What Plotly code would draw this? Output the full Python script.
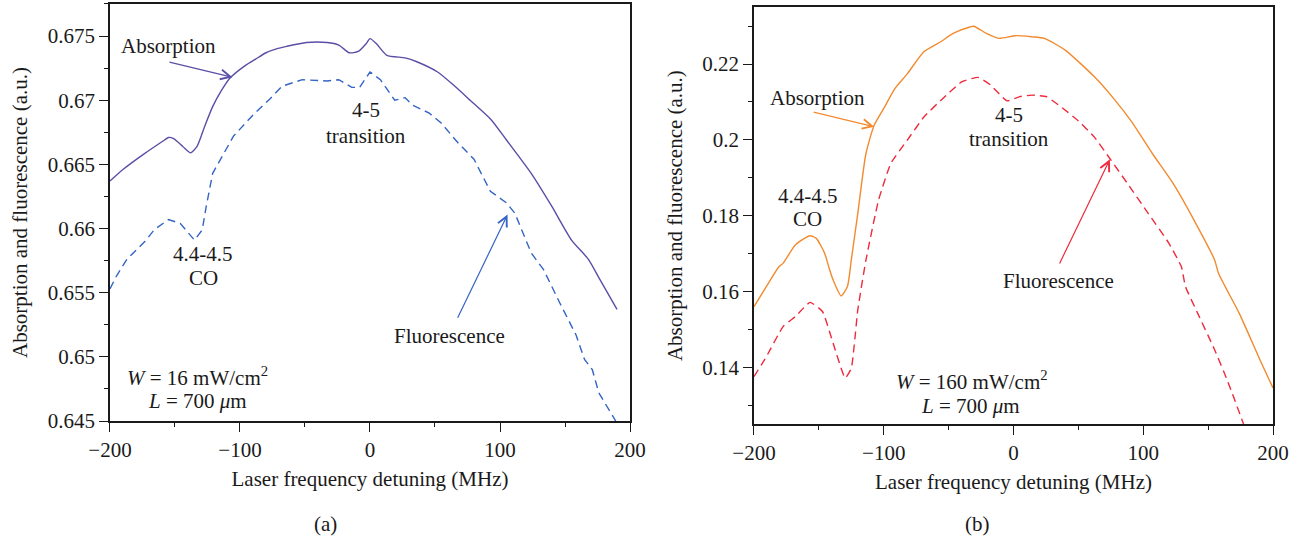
import plotly.graph_objects as go

# ---- Panel (a): W = 16 mW/cm^2 ----
a_abs_x = [-200, -190, -174, -158, -155, -151, -144, -138, -133, -127, -121, -114, -108,
           -96, -88, -80, -72, -64, -49, -33, -24, -16, -9, -3, 0, 5, 13, 27, 36, 52, 64,
           77, 93, 105, 124, 140, 155, 168, 177, 190]
a_abs_y = [0.6637, 0.6646, 0.6658, 0.6669, 0.6671, 0.6670, 0.6664, 0.6659, 0.6664, 0.6680,
           0.6695, 0.6708, 0.6717, 0.6727, 0.6732, 0.6737, 0.6740, 0.6742, 0.6745, 0.6745,
           0.6743, 0.6737, 0.6738, 0.6744, 0.6748, 0.6744, 0.6735, 0.6733, 0.6730, 0.6722,
           0.6712, 0.6700, 0.6685, 0.6669, 0.6643, 0.6617, 0.6591, 0.6576, 0.6560, 0.6537]

a_flu_x = [-200, -195, -187, -182, -173, -166, -155, -146, -138, -135, -129, -126, -121,
           -105, -89.5, -77, -67.5, -52, -33, -24, -14, -8, 0, 8, 19, 27, 33, 45.5, 55,
           67.5, 80, 92.6, 105, 111.4, 124, 133.5, 146, 158.5, 165, 171, 176, 187, 189]
a_flu_y = [0.6553, 0.6563, 0.6576, 0.6581, 0.6590, 0.6599, 0.6607, 0.6604, 0.6594, 0.6591,
           0.6599, 0.6617, 0.6643, 0.6672, 0.6689, 0.6701, 0.6711, 0.6716, 0.6715, 0.6716,
           0.6710, 0.6710, 0.6722, 0.6716, 0.6700, 0.6702, 0.6696, 0.6690, 0.6682, 0.6667,
           0.6654, 0.6629, 0.6620, 0.6612, 0.6581, 0.6568, 0.6542, 0.6517, 0.6498, 0.6490,
           0.6472, 0.6454, 0.6450]

# ---- Panel (b): W = 160 mW/cm^2 ----
b_abs_x = [-200, -190.4, -180.8, -177.6, -168, -156.8, -152, -145.6, -142.4, -139, -132.8,
           -128, -125, -120, -113.7, -107.3, -99.3, -91.3, -81.7, -68.9, -56.1, -46.5,
           -33.7, -30.5, -20.9, -11.3, 1.4, 14.2, 23.8, 39.8, 62.2, 78.2, 91, 107, 123,
           139, 155, 158, 174, 190, 200]
b_abs_y = [0.1560, 0.1613, 0.1665, 0.1674, 0.1723, 0.1747, 0.1740, 0.1701, 0.1665, 0.1630,
           0.1588, 0.1613, 0.1683, 0.1806, 0.1964, 0.2039, 0.2087, 0.2136, 0.2175, 0.2233,
           0.2259, 0.2281, 0.2298, 0.2300, 0.2281, 0.2268, 0.2275, 0.2272, 0.2268, 0.2237,
           0.2167, 0.2105, 0.2048, 0.1964, 0.1885, 0.1789, 0.1683, 0.1648, 0.1542, 0.1419,
           0.1345]

b_flu_x = [-200, -190.4, -177.6, -168, -156.8, -147.2, -139, -129.7, -125, -120, -113.7,
           -104, -94.5, -81.7, -68.9, -53, -40, -27.3, -17.8, -5, 4.7, 14.2, 25.4, 36.7,
           49.4, 62.2, 75, 87.8, 103.8, 119.8, 129.4, 132.5, 142, 155, 164.6, 177.3]
b_flu_y = [0.1375, 0.1428, 0.1507, 0.1534, 0.1571, 0.1547, 0.1463, 0.1371, 0.1397, 0.1551,
           0.1683, 0.1841, 0.1938, 0.2000, 0.2061, 0.2114, 0.2153, 0.2165, 0.2145, 0.2103,
           0.2114, 0.2118, 0.2114, 0.2087, 0.2052, 0.2008, 0.1947, 0.1885, 0.1806, 0.1727,
           0.1665, 0.1613, 0.1542, 0.1446, 0.1367, 0.1250]

# ---- Axis ticks ----
x_ticks = [-200, -100, 0, 100, 200]
x_ticktext = ["\u2212200", "\u2212100", "0", "100", "200"]
a_y_ticks = [0.645, 0.65, 0.655, 0.66, 0.665, 0.67, 0.675]
a_y_ticktext = ["0.645", "0.65", "0.655", "0.66", "0.665", "0.67", "0.675"]
b_y_ticks = [0.14, 0.16, 0.18, 0.2, 0.22]
b_y_ticktext = ["0.14", "0.16", "0.18", "0.2", "0.22"]

FONT = "Liberation Serif"
FS = 21
BLACK = "#1a1a1a"
C_A_ABS = "#5a4ea6"
C_A_FLU = "#3464c4"
C_B_ABS = "#f28a2e"
C_B_FLU = "#ee2a3c"

fig = go.Figure()

fig.add_trace(go.Scatter(x=a_abs_x, y=a_abs_y, mode="lines", xaxis="x", yaxis="y",
                         line=dict(color=C_A_ABS, width=1.4, shape="spline", smoothing=0.6),
                         showlegend=False))
fig.add_trace(go.Scatter(x=a_flu_x, y=a_flu_y, mode="lines", xaxis="x", yaxis="y",
                         line=dict(color=C_A_FLU, width=1.4, dash="8px,5px"),
                         showlegend=False))
fig.add_trace(go.Scatter(x=b_abs_x, y=b_abs_y, mode="lines", xaxis="x2", yaxis="y2",
                         line=dict(color=C_B_ABS, width=1.4, shape="spline", smoothing=0.6),
                         showlegend=False))
fig.add_trace(go.Scatter(x=b_flu_x, y=b_flu_y, mode="lines", xaxis="x2", yaxis="y2",
                         line=dict(color=C_B_FLU, width=1.4, dash="8px,5px",
                                   shape="spline", smoothing=0.4),
                         showlegend=False))


def x_axis(domain, anchor):
    return dict(domain=domain, anchor=anchor, range=[-200, 200], automargin=False,
                tickvals=x_ticks, ticktext=x_ticktext,
                ticks="outside", ticklen=9, tickwidth=1.2, tickcolor=BLACK,
                minor=dict(dtick=50, tick0=0, ticks="outside", ticklen=4,
                           tickwidth=1.2, tickcolor=BLACK),
                showline=True, linecolor=BLACK, linewidth=1.5, mirror=True,
                showgrid=False, zeroline=False,
                tickfont=dict(family=FONT, size=FS, color=BLACK),
                title=dict(text="Laser frequency detuning (MHz)", standoff=10,
                           font=dict(family=FONT, size=FS, color=BLACK)))


def y_axis(domain, anchor, rng, tv, tt, minor_dtick, minor_tick0):
    return dict(domain=domain, anchor=anchor, range=rng, automargin=False,
                tickvals=tv, ticktext=tt,
                ticks="outside", ticklen=9, tickwidth=1.2, tickcolor=BLACK,
                minor=dict(dtick=minor_dtick, tick0=minor_tick0, ticks="outside",
                           ticklen=4, tickwidth=1.2, tickcolor=BLACK),
                showline=True, linecolor=BLACK, linewidth=1.5, mirror=True,
                showgrid=False, zeroline=False,
                tickfont=dict(family=FONT, size=FS, color=BLACK),
                title=dict(text="Absorption and fluorescence (a.u.)", standoff=14,
                           font=dict(family=FONT, size=FS, color=BLACK)))


fig.update_layout(
    width=1309, height=539,
    margin=dict(l=0, r=0, t=0, b=0, autoexpand=False),
    paper_bgcolor="white", plot_bgcolor="white",
    font=dict(family=FONT, size=FS, color=BLACK),
    xaxis=x_axis([0.0840, 0.4813], "y"),
    yaxis=y_axis([0.2189, 0.9926], "x", [0.645, 0.6775], a_y_ticks, a_y_ticktext,
                 0.0025, 0.645),
    xaxis2=x_axis([0.5760, 0.9725], "y2"),
    yaxis2=y_axis([0.2134, 0.9865], "x2", [0.125, 0.235], b_y_ticks, b_y_ticktext,
                  0.01, 0.12),
)

ann = []


def label(text, x, y, xref, yref):
    ann.append(dict(text=text, x=x, y=y, xref=xref, yref=yref, showarrow=False,
                    xanchor="center", yanchor="middle",
                    font=dict(family=FONT, size=FS, color=BLACK)))


def arrow(x0, y0, x1, y1, xref, yref, color):
    ann.append(dict(text="", x=x1, y=y1, ax=x0, ay=y0, xref=xref, yref=yref,
                    axref=xref, ayref=yref, showarrow=True, arrowhead=5,
                    arrowsize=1.6, arrowwidth=1.2, arrowcolor=color, standoff=0))


# panel (a) labels
label("Absorption", -155, 0.67422, "x", "y")
arrow(-155.4, 0.6730, -105.8, 0.67179, "x", "y", C_A_ABS)
label("4-5", -3.2, 0.66925, "x", "y")
label("transition", -3.2, 0.66720, "x", "y")
label("4.4-4.5", -128.1, 0.65805, "x", "y")
label("CO", -128.1, 0.65615, "x", "y")
label("Fluorescence", 61.2, 0.65163, "x", "y")
arrow(66.9, 0.65293, 105.8, 0.66109, "x", "y", C_A_FLU)
label("<i>W</i> = 16 mW/cm<sup>2</sup>", -132.7, 0.64850, "x", "y")
label("<i>L</i> = 700 <i>\u03bc</i>m", -132.4, 0.64655, "x", "y")

# panel (b) labels
label("Absorption", -151.1, 0.21095, "x2", "y2")
arrow(-155.2, 0.20743, -107.3, 0.20347, "x2", "y2", C_B_ABS)
label("4-5", -3.4, 0.20645, "x2", "y2")
label("transition", -3.4, 0.20030, "x2", "y2")
label("4.4-4.5", -158.4, 0.18530, "x2", "y2")
label("CO", -158.4, 0.17910, "x2", "y2")
label("Fluorescence", 35.0, 0.16286, "x2", "y2")
arrow(35.0, 0.16699, 74.3, 0.19486, "x2", "y2", C_B_FLU)
label("<i>W</i> = 160 mW/cm<sup>2</sup>", -32.2, 0.13650, "x2", "y2")
label("<i>L</i> = 700 <i>\u03bc</i>m", -33.0, 0.12975, "x2", "y2")

# sub-figure captions
label("(a)", 0.2483, 0.028, "paper", "paper")
label("(b)", 0.7464, 0.028, "paper", "paper")

fig.update_layout(annotations=ann)

fig.write_html("out.html")
